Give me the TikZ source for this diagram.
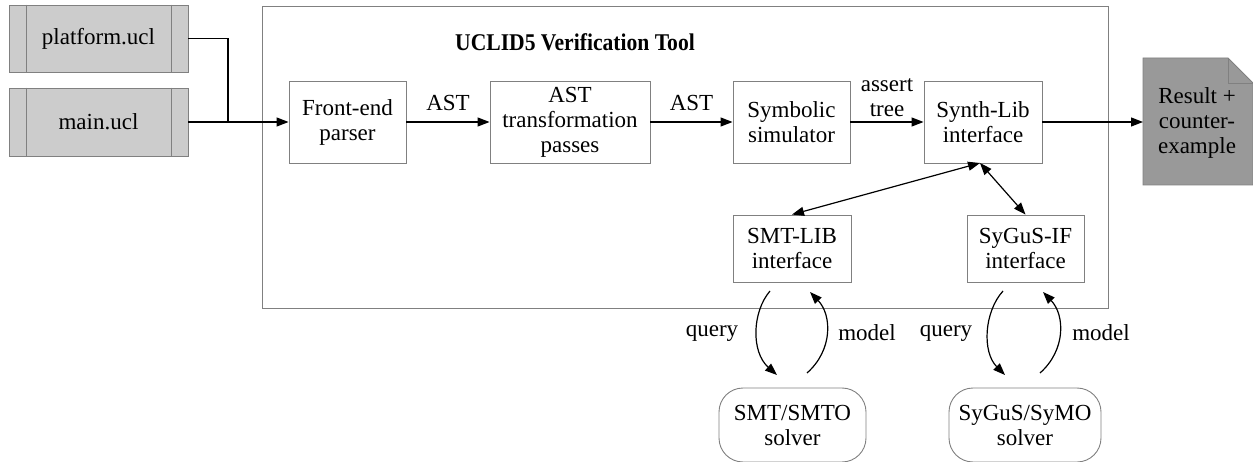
\documentclass[tikz,border=0pt]{standalone}
\usepackage{fontspec}
\setmainfont{Liberation Serif}
\usetikzlibrary{arrows.meta,calc}
\definecolor{bord}{gray}{0.5}
\begin{document}
\begin{tikzpicture}[x=1pt,y=-1pt,
  box/.style={draw=bord,line width=0.9pt,align=center,inner sep=0pt,font=\fontsize{23}{25}\selectfont},
  lbl/.style={align=center,inner sep=0pt,font=\fontsize{23}{25}\selectfont},
  edge/.style={line width=1.2pt,-{Triangle[length=12pt,width=9pt]}},
  dedge/.style={line width=1.2pt,{Triangle[length=12pt,width=9pt]}-{Triangle[length=12pt,width=9pt]}},
  filebox/.style={box,fill=gray!40,minimum width=179pt,minimum height=67pt}]
\useasboundingbox (0,0) rectangle (1253,462);
% frame
\node[draw=bord,line width=0.9pt,minimum width=846pt,minimum height=302pt,inner sep=0pt] (frame) at (685,157) {};
\node[font=\fontsize{24}{27}\selectfont\bfseries,xscale=0.9] (title) at (575,42) {UCLID5 Verification Tool};
% files
\node[filebox] (plat) at (98.5,38.5) {platform.ucl};
\draw[bord,line width=0.9pt] ($(plat.north west)+(18,0)$) -- ($(plat.south west)+(18,0)$)
  ($(plat.north east)+(-17,0)$) -- ($(plat.south east)+(-17,0)$);
\node[filebox,minimum height=68pt] (main) at (98.5,122) {main.ucl};
\draw[bord,line width=0.9pt] ($(main.north west)+(18,0)$) -- ($(main.south west)+(18,0)$)
  ($(main.north east)+(-17,0)$) -- ($(main.south east)+(-17,0)$);
% pipeline
\node[box,minimum width=117pt,minimum height=82pt] (fe) at (347.5,122) {Front-end\\parser};
\node[box,minimum width=160pt,minimum height=82pt] (ast) at (570,122) {AST\\transformation\\passes};
\node[box,minimum width=117pt,minimum height=82pt] (sym) at (791.5,122) {Symbolic\\simulator};
\node[box,minimum width=118pt,minimum height=82pt] (syn) at (983,122) {Synth-Lib\\interface};
\node[box,minimum width=118pt,minimum height=67pt] (smt) at (792,248.5) {SMT-LIB\\interface};
\node[box,minimum width=117pt,minimum height=67pt] (sygus) at (1025.5,248.5) {SyGuS-IF\\interface};
% result document
\draw[bord,line width=0.9pt,fill=gray!80] (1143,58) -- (1228,58) -- (1253,83) -- (1253,185) -- (1143,185) -- cycle;
\draw[bord,line width=0.9pt] (1228,58) -- (1228,83) -- (1253,83);
\node[lbl] (res) at (1197,123) {Result +\\counter-\\example};
\coordinate (resw) at (1143,122);
% solvers
\node[box,rounded corners=24pt,minimum width=147pt,minimum height=74pt] (smts) at (792.5,425) {SMT/SMTO\\solver};
\node[box,rounded corners=24pt,minimum width=152pt,minimum height=74pt] (sys) at (1025,425) {SyGuS/SyMO\\solver};
% edges
\coordinate (j) at (228,122);
\draw[line width=1.2pt] (plat.east) -| (j);
\draw[edge] (main.east) -- (fe.west);
\draw[edge] (fe.east) -- node[lbl,above=11pt] {AST} (ast.west);
\draw[edge] (ast.east) -- node[lbl,above=11pt] {AST} (sym.west);
\draw[edge] (sym.east) -- node[lbl,above=5pt] {assert\\tree} (syn.west);
\draw[edge] (syn.east) -- (resw);
\coordinate (sb) at (980,163);
\draw[dedge] (sb) -- (smt.north);
\draw[dedge] (sb) -- (sygus.north);
% query/model loops
\coordinate (q1a) at (770,291); \coordinate (q1b) at (777,375);
\coordinate (m1a) at (807,373); \coordinate (m1b) at (810,292);
\draw[edge] (q1a) .. controls (752,312) and (751,352) .. (q1b);
\draw[edge] (m1a) .. controls (833,350) and (832,315) .. (m1b);
\node[lbl] (q1) at (712,333) {query};
\node[lbl] (m1) at (867,333) {model};
\coordinate (q2a) at (1003,291); \coordinate (q2b) at (1005,375);
\coordinate (m2a) at (1040,373); \coordinate (m2b) at (1043,292);
\draw[edge] (q2a) .. controls (984,312) and (982,352) .. (q2b);
\draw[edge] (m2a) .. controls (1066,350) and (1065,315) .. (m2b);
\node[lbl] (q2) at (946,333) {query};
\node[lbl] (m2) at (1101,333) {model};
\end{tikzpicture}
\end{document}
